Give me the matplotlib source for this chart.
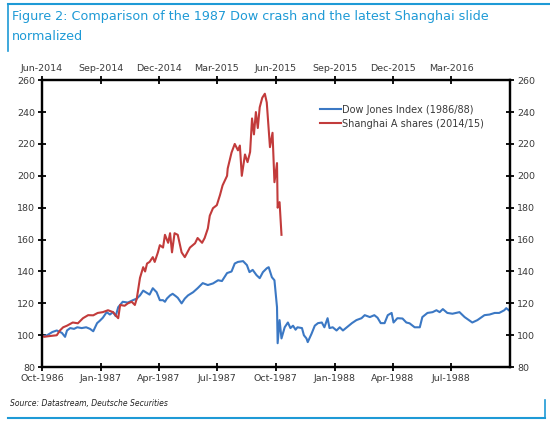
import pandas as pd
import matplotlib
matplotlib.use("Agg")
import matplotlib.pyplot as plt
import matplotlib.dates as mdates
from matplotlib.lines import Line2D

# Dow Jones (1986/88), normalized -- days after 1 Oct 1986
dow_start = "1986-10-01"
dow_days = [0, 2, 8, 16, 23, 31, 36, 39, 44, 50, 55, 62, 69, 75, 80, 86, 90, 95,
            101, 106, 111, 115, 119, 126, 134, 142, 148, 153, 158, 164, 168, 173, 179, 184,
            189, 192, 195, 200, 204, 209, 212, 218, 223, 228, 236, 243, 251, 259, 267, 275,
            281, 289, 296, 301, 306, 314, 320, 324, 329, 335, 340, 345, 351, 354, 359, 363,
            367, 368, 371, 374, 379, 384, 388, 392, 396, 399, 406, 409, 413, 415, 421, 426,
            431, 437, 441, 446, 449, 454, 460, 465, 470, 476, 484, 491, 499, 504, 512, 519,
            524, 529, 535, 540, 546, 549, 555, 563, 569, 574, 582, 590, 594, 602, 610, 616,
            621, 626, 633, 641, 652, 660, 665, 672, 680, 691, 699, 707, 714, 722, 725, 729]
dow_values = [100, 99.5, 100, 102, 103, 101.5, 99, 103, 104.5, 104, 105, 104.5, 105, 104, 102.5, 107.6, 109, 111,
              114.5, 113, 114.5, 112, 117.6, 121, 120.5, 122, 123, 125, 128, 126.5, 125.5, 129.5, 127, 122,
              122, 121, 123, 125, 126, 124.5, 123.5, 120, 123, 125, 127, 129.5, 132.7, 131.5, 132.5, 134.5,
              134, 139, 140, 145, 146, 146.5, 144, 139.6, 141, 137.7, 135.8, 139.6, 142, 142.7, 136.4, 134.5,
              117.6, 95, 109.5, 98, 105, 108, 104.5, 106, 103.5, 105, 104.5, 100, 98, 95.7, 101, 106,
              107.6, 108, 105, 110.7, 104.5, 105, 103, 105, 103, 105, 107.6, 109.5, 110.7, 112.6, 111.4, 112.6,
              111, 107.6, 107.6, 112.6, 114, 108, 110.7, 110.5, 108, 107.5, 105, 105, 111.4, 114, 114.5, 115.7,
              114.5, 116.4, 114, 113.5, 114.5, 111.4, 110, 108, 109.5, 112.6, 113, 114, 114, 115.7, 117, 115.7]

# Shanghai A shares (2014/15), normalized -- days after 1 Jun 2014
sh_start = "2014-06-01"
sh_days = [0, 3, 12, 23, 28, 33, 39, 48, 56, 64, 72, 80, 87, 95, 103, 111, 115, 119,
           122, 129, 134, 140, 145, 148, 153, 158, 161, 164, 168, 173, 176, 181, 184, 189,
           192, 197, 200, 203, 207, 212, 218, 223, 231, 239, 243, 250, 254, 259, 262, 267,
           273, 278, 282, 289, 290, 296, 301, 306, 309, 312, 317, 321, 325, 328, 331, 334,
           337, 340, 344, 348, 351, 356, 360, 363, 367, 368, 371, 374]
sh_values = [100, 99, 99.5, 100, 103, 105, 106, 108, 107.5, 110.7, 112.6, 112.5, 114, 114.5, 115.7, 114.5, 112.5, 110.7,
             119, 118.5, 120, 121, 119, 123, 136, 142.7, 140, 145, 146, 149, 146, 152, 156.5, 155,
             163, 158, 164, 152, 164, 163, 152, 149, 155, 157.7, 161, 158, 161, 167, 175, 179.7,
             181.6, 188, 194, 200, 204.6, 214.6, 220, 216, 219, 200, 213.4, 208.6, 215, 236, 226, 240,
             230, 243, 249, 251.5, 246, 218, 227, 196, 208, 180, 183.5, 163]

blue = "#3b78c4"
red = "#c23b3b"
frame_blue = "#1e9ad6"
text_col = "#3a3a3a"

plt.rcParams["font.family"] = "DejaVu Sans"

dow_x = pd.Timestamp(dow_start) + pd.to_timedelta(dow_days, unit="D")
sh_x = pd.Timestamp(sh_start) + pd.to_timedelta(sh_days, unit="D")

fig = plt.figure(figsize=(5.5, 4.22), dpi=100)
ax = fig.add_axes([0.0764, 0.130, 0.851, 0.680])
ax2 = ax.twiny()

l1, = ax.plot(dow_x, dow_values, color=blue, lw=1.5, label="Dow Jones Index (1986/88)")
l2, = ax2.plot(sh_x, sh_values, color=red, lw=1.5, label="Shanghai A shares (2014/15)")

ax.set_xlim(pd.Timestamp("1986-10-01"), pd.Timestamp("1988-10-01"))
ax2.set_xlim(pd.Timestamp("2014-06-01"), pd.Timestamp("2016-06-01"))
ax.set_ylim(80, 260)
ax.set_yticks(range(80, 261, 20))

ax.set_xticks(pd.date_range("1986-10-01", "1988-07-01", freq="QS-OCT"))
ax.xaxis.set_major_formatter(mdates.DateFormatter("%b-%Y"))
ax2.set_xticks(pd.date_range("2014-06-01", "2016-03-01", freq="QS-JUN"))
ax2.xaxis.set_major_formatter(mdates.DateFormatter("%b-%Y"))

for a in (ax, ax2):
    for s in a.spines.values():
        s.set_linewidth(1.6)
    a.tick_params(direction="inout", length=6, width=1.3, labelsize=6.8,
                  labelcolor=text_col, pad=2)
ax.tick_params(axis="y", right=True, labelright=True)

ax2.legend(handles=[l1, l2], loc="upper left", bbox_to_anchor=(0.575, 0.945),
           frameon=False, fontsize=7, handlelength=2.2, handletextpad=0.1,
           labelspacing=0.4, labelcolor=text_col)

fig.text(0.022, 0.977, "Figure 2: Comparison of the 1987 Dow crash and the latest Shanghai slide\nnormalized",
         color=frame_blue, fontsize=9.2, va="top", ha="left", linespacing=1.75)
fig.text(0.018, 0.043, "Source: Datastream, Deutsche Securities", style="italic",
         fontsize=5.5, color="#222222", va="center")

# blue frame lines
fig.add_artist(Line2D([0.0145, 1.0], [0.99, 0.99], transform=fig.transFigure, color=frame_blue, lw=1.5))
fig.add_artist(Line2D([0.0145, 0.0145], [0.99, 0.88], transform=fig.transFigure, color=frame_blue, lw=1.2))
fig.add_artist(Line2D([0.0145, 0.991], [0.0095, 0.0095], transform=fig.transFigure, color=frame_blue, lw=1.5))
fig.add_artist(Line2D([0.991, 0.991], [0.0095, 0.052], transform=fig.transFigure, color=frame_blue, lw=1.2))

fig.savefig("out.png", dpi=100)
